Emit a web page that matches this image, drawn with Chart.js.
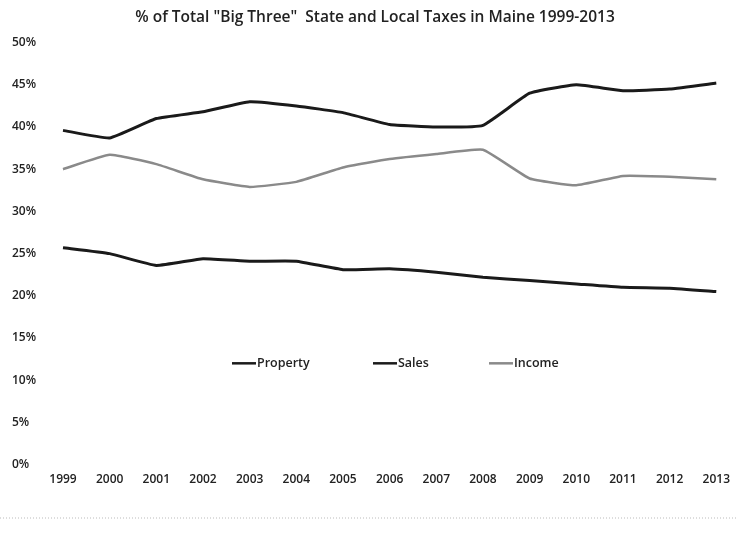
<!DOCTYPE html>
<html>
<head>
<meta charset="utf-8">
<script src="https://cdn.jsdelivr.net/npm/chart.js@4"></script>
<style>
  html, body { margin: 0; padding: 0; background: #fff; }
  #wrap { width: 738px; height: 545px; }
</style>
</head>
<body>
<div id="wrap"><canvas id="taxChart"></canvas></div>
<script>
const years = ["1999", "2000", "2001", "2002", "2003", "2004", "2005", "2006",
  "2007", "2008", "2009", "2010", "2011", "2012", "2013"];

// share of the "big three" taxes, in percent
const property = [25.7, 25.0, 23.6, 24.4, 24.1, 24.1, 23.1, 23.2, 22.8, 22.2, 21.8, 21.4, 21.0, 20.9, 20.5];
const sales = [39.6, 38.7, 41.0, 41.8, 43.0, 42.5, 41.7, 40.3, 40.0, 40.2, 44.0, 45.0, 44.3, 44.5, 45.2];
const income = [35.0, 36.7, 35.6, 33.8, 32.9, 33.5, 35.2, 36.2, 36.8, 37.3, 33.9, 33.1, 34.2, 34.1, 33.8];

const yTicks = [0, 5, 10, 15, 20, 25, 30, 35, 40, 45, 50];

const textColor = "#222";
const fontFamily = "'Open Sans', 'Liberation Sans', sans-serif";

// legend sits inside the plot, around the 12% line
const innerLegend = {
  id: "innerLegend",
  afterDraw(chart) {
    const { ctx, scales } = chart;
    const y = scales.y.getPixelForValue(12.0);
    const xs = [232, 373, 489];
    ctx.save();
    ctx.font = "600 12.5px " + fontFamily;
    ctx.textBaseline = "middle";
    chart.data.datasets.forEach((ds, i) => {
      ctx.strokeStyle = ds.borderColor;
      ctx.lineWidth = 2.5;
      ctx.beginPath();
      ctx.moveTo(xs[i], y);
      ctx.lineTo(xs[i] + 24, y);
      ctx.stroke();
      ctx.fillStyle = textColor;
      ctx.fillText(ds.label, xs[i] + 25, y);
    });
    // faint dotted rule below the chart
    ctx.strokeStyle = "#bbb";
    ctx.lineWidth = 1;
    ctx.setLineDash([1, 2]);
    ctx.beginPath();
    ctx.moveTo(0, 518);
    ctx.lineTo(738, 518);
    ctx.stroke();
    ctx.restore();
  }
};

const data = {
  labels: years,
  datasets: [
    { label: "Property", data: property, borderColor: "#1a1a1a", borderWidth: 3, tension: 0.12 },
    { label: "Sales", data: sales, borderColor: "#1a1a1a", borderWidth: 3, tension: 0.12 },
    { label: "Income", data: income, borderColor: "#8a8a8a", borderWidth: 2.5, tension: 0.12 },
  ],
};

const options = {
  animation: false,
  responsive: true,
  maintainAspectRatio: false,
  layout: { padding: { left: 12, right: 0, top: 6, bottom: 50 } },
  elements: { point: { radius: 0 } },
  plugins: {
    legend: { display: false },
    tooltip: { enabled: false },
    title: {
      display: true,
      text: '% of Total "Big Three"  State and Local Taxes in Maine 1999-2013',
      color: textColor,
      font: { family: fontFamily, size: 15.5, weight: "600" },
      padding: { top: 2, bottom: 16 },
    },
  },
  scales: {
    x: {
      grid: { display: false, drawTicks: false },
      border: { display: false },
      ticks: {
        color: textColor,
        font: { family: fontFamily, size: 12, weight: "600" },
        maxRotation: 0,
        autoSkip: false,
        padding: 8,
      },
    },
    y: {
      min: 0,
      max: 50,
      afterBuildTicks: (axis) => { axis.ticks = yTicks.map((v) => ({ value: v })); },
      afterFit: (axis) => { axis.width = 51; },
      grid: { display: false, drawTicks: false },
      border: { display: false },
      ticks: {
        color: textColor,
        font: { family: fontFamily, size: 12, weight: "600" },
        crossAlign: "far",
        callback: (v) => v + "%",
      },
    },
  },
};

new Chart(document.getElementById("taxChart"), {
  type: "line",
  data: data,
  options: options,
  plugins: [innerLegend],
});
</script>
</body>
</html>
